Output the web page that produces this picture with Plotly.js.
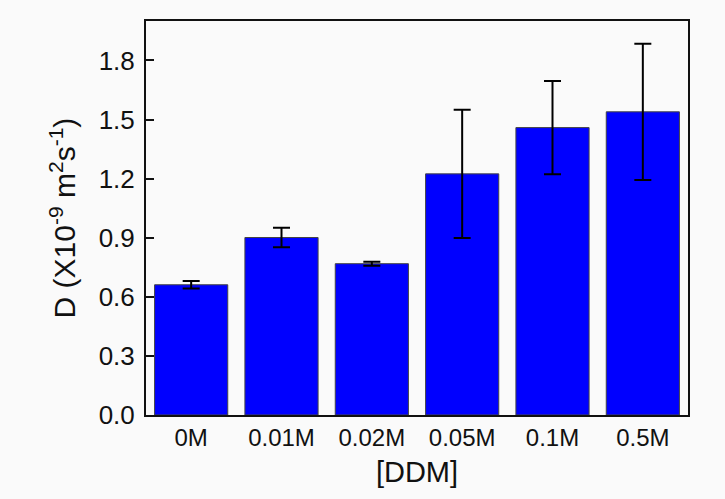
<!DOCTYPE html>
<html>
<head>
<meta charset="utf-8">
<script src="https://cdn.plot.ly/plotly-3.0.1.min.js"></script>
<style>html,body{margin:0;padding:0;background:#fafafa;}</style>
</head>
<body>
<div id="chart" style="width:725px;height:499px;"></div>
<script>
const categories = ["0M", "0.01M", "0.02M", "0.05M", "0.1M", "0.5M"];
const values = [0.661, 0.901, 0.768, 1.224, 1.459, 1.539];
const errors = [0.019, 0.05, 0.01, 0.325, 0.237, 0.346];
const yTicks = [0.0, 0.3, 0.6, 0.9, 1.2, 1.5, 1.8];

const FAM = "Liberation Sans";
const INK = "#111111";

const trace = {
  type: "bar",
  x: categories,
  y: values,
  marker: {color: "#0000FF", line: {color: "#444444", width: 1}},
  error_y: {type: "data", array: errors, visible: true, color: "#000000", thickness: 2, width: 8.5},
  width: 0.81
};

const layout = {
  width: 725, height: 499,
  paper_bgcolor: "#fafafa",
  plot_bgcolor: "#fafafa",
  margin: {l: 146, r: 37, t: 21, b: 84},
  showlegend: false,
  font: {family: FAM, size: 20, color: INK},
  xaxis: {
    type: "category",
    range: [-0.5, 5.5],
    showline: true, mirror: true, linecolor: INK, linewidth: 2,
    ticks: "", showgrid: false, zeroline: false,
    tickfont: {family: FAM, size: 24, color: INK},
    title: {text: "[DDM]", font: {family: FAM, size: 29, color: INK}, standoff: 12}
  },
  yaxis: {
    range: [0, 2.0],
    tickvals: yTicks,
    ticktext: yTicks.map(v => v.toFixed(1)),
    showline: true, mirror: true, linecolor: INK, linewidth: 2,
    ticks: "inside", ticklen: 8, tickwidth: 2, tickcolor: INK,
    ticklabelstandoff: 4,
    showgrid: false, zeroline: false,
    tickfont: {family: FAM, size: 26, color: INK},
    title: {text: "D (X10<sup>-9</sup> m<sup>2</sup>s<sup>-1</sup>)", font: {family: FAM, size: 30, color: INK}, standoff: 14}
  }
};

Plotly.newPlot("chart", [trace], layout, {displayModeBar: false, staticPlot: true});
</script>
</body>
</html>
